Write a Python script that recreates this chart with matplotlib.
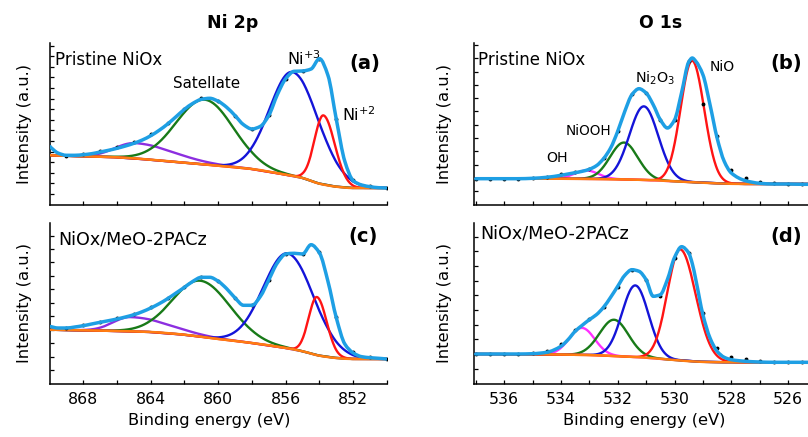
import numpy as np
import matplotlib
matplotlib.use("Agg")
import matplotlib.pyplot as plt
from matplotlib.ticker import MultipleLocator
from matplotlib.path import Path
from matplotlib.patches import PathPatch

# ---------------- data (intensity in a.u.) ----------------
# Ni 2p, fitted envelope
ni_env_e = [870, 869.5, 869, 868.5, 868, 867.5, 867, 866.5, 866, 865.5, 865, 864.5,
            864, 863.5, 863, 862.5, 862, 861.5, 861, 860.5, 860, 859.5, 859, 858.5,
            858, 857.5, 857, 856.5, 856, 855.5, 855, 854.5, 854, 853.5, 853, 852.5,
            852, 851.5, 851, 850.5, 850]
a_env = [58.2, 51.5, 49.2, 49.2, 49.8, 50.8, 52.5, 54.2, 56.2, 58.5, 61.2, 64.5,
         68.8, 74.2, 80.5, 87.8, 95.2, 101.2, 105.2, 106.2, 103.2, 97.2, 88.8, 79.8,
         75.5, 78.2, 89.2, 109.8, 125.8, 133.2, 133.5, 135.5, 145.8, 129.2, 84.8, 43.2,
         23.8, 19.5, 17.8, 16.8, 16.5]
c_env = [57.2, 55.5, 55.5, 56.5, 57.8, 59.5, 61.2, 62.8, 64.5, 66.5, 68.8, 71.8,
         75.5, 79.8, 84.8, 90.5, 96.2, 102.2, 106.2, 106.2, 102.2, 94.8, 85.5, 78.2,
         78.2, 87.2, 103.8, 120.5, 129.5, 130.2, 129.5, 138.8, 130.5, 102.2, 65.5, 39.5,
         30.5, 26.8, 25.8, 25.2, 24.5]

# Ni 2p, measured points
ni_raw_e = [870, 869, 868, 867, 866, 865, 864, 863, 862, 861, 860, 859, 858, 857,
            856, 855, 854, 853, 852, 851, 850]
a_raw = [58.5, 49, 50.5, 53.5, 58, 63, 70.5, 82, 96, 106.5, 103.5, 88.5, 76, 89.5,
         126, 133.5, 145.5, 85.5, 24.5, 18.5, 16.8]
c_raw = [57.5, 56, 59, 62, 65.5, 70, 76.5, 86, 97, 107, 103, 86, 78.5, 104,
         130, 130, 131.5, 66.5, 31.5, 26.5, 24.8]

# Ni 2p, background
ni_bg_e = [870, 868, 866, 864, 862, 860, 858, 856, 855, 854, 853, 852, 850]
a_bg = [49.2, 48.2, 47.2, 44.8, 41.8, 38.8, 35.5, 29.8, 26.5, 20.8, 17.8, 16.5, 16.5]
c_bg = [53.8, 53.2, 52.5, 51.5, 48.8, 44.5, 40.5, 35.5, 32.2, 27.8, 25.5, 24.5, 24.5]

# Ni 2p fit components: centre, height, fwhm (high-BE side), fwhm (low-BE side)
a_purple = [864.9, 15.5, 2.8, 5.3]
a_green = [860.8, 64.8, 4.0, 4.0]
a_blue = [855.6, 104, 3.2, 3.6]
a_red = [853.77, 69, 1.25, 1.6]
c_purple = [865.2, 14.3, 2.4, 5.2]
c_green = [861.05, 56, 3.9, 4.15]
c_blue = [855.88, 95, 3.4, 3.6]
c_red = [854.15, 58, 1.15, 1.35]

# O 1s, fitted envelope
o_env_e = [537, 536.5, 536, 535.5, 535, 534.5, 534, 533.75, 533.5, 533.25, 533,
           532.75, 532.5, 532.25, 532, 531.75, 531.5, 531.25, 531, 530.75, 530.5,
           530.25, 530, 529.75, 529.5, 529.375, 529.25, 529, 528.75, 528.5, 528.25,
           528, 527.5, 527, 526.5, 526, 525.5, 525.3]
b_env = [25.8, 25.8, 25.8, 25.8, 26.2, 27.2, 29.2, 30.5, 31.8, 33.2, 35.2,
         38.8, 45.8, 56.5, 73.2, 93.2, 109.8, 115.8, 111.5, 99.8, 84.8,
         76.5, 84.5, 112.0, 142.5, 146.5, 143.2, 129.8, 99.8, 66.5, 43.2,
         31.5, 23.8, 21.2, 20.5, 20.5, 20.2, 20.2]
d_env = [29.5, 29.5, 29.5, 29.5, 29.8, 31.2, 37.2, 43.8, 52.2, 58.2, 63.8,
         68.8, 76.2, 86.2, 97.2, 108.2, 113.8, 112.2, 103.8, 87.2, 88.8,
         104.0, 126.0, 136.8, 130.5, 120.0, 103.8, 68.8, 45.5, 32.2, 26.2,
         23.8, 22.2, 21.5, 21.2, 21.2, 21.2, 21.2]

# O 1s, measured points
o_raw_e = [537, 536.5, 536, 535.5, 535, 534.5, 534, 533.5, 533, 532.5, 532, 531.5,
           531, 530.5, 530, 529.5, 529, 528.5, 528, 527.5, 527, 526.5, 526, 525.5]
b_raw = [25.8, 25.8, 25.8, 25.9, 26.4, 27.8, 30.2, 33.0, 36.0, 46.5, 74, 110.5,
         111.5, 85, 85, 143.5, 101, 69, 34.5, 26.5, 23.0, 21.5, 21.0, 20.5]
d_raw = [29.5, 29.5, 29.5, 29.8, 30.4, 32.5, 39.5, 54, 64.5, 76.5, 97, 114,
         104, 88, 126, 131, 71, 36, 27, 24.5, 23, 22, 21.6, 21.3]

# O 1s, background
o_bg_e = [537, 535, 533, 532, 531, 530, 529, 528, 527, 525.3]
b_bg = [25.8, 25.8, 25.6, 25.2, 24.5, 23.2, 21.8, 20.7, 20.5, 20.5]
d_bg = [29.5, 29.2, 28.5, 27.3, 25.8, 23.5, 21.6, 21.2, 21.2, 21.2]

# O 1s fit components: centre, height, fwhm (high-BE side), fwhm (low-BE side)
b_oh = [533.1, 8.4, 1.0, 1.0]
b_niooh = [531.78, 36.9, 1.15, 1.15]
b_ni2o3 = [531.08, 73.6, 1.2, 1.2]
b_nio = [529.38, 121.5, 0.95, 1.0]
d_oh = [533.26, 27, 1.05, 1.05]
d_niooh = [532.13, 36.3, 1.2, 1.2]
d_ni2o3 = [531.38, 71.7, 1.1, 1.1]
d_nio = [529.8, 111, 1.06, 1.28]

ENV = "#1e9fe4"
C_BLUE = "#1414d8"
C_GREEN = "#187a18"
C_RED = "#ff1414"
C_PURPLE = "#8c2ee0"
C_MAG = "#ff30ff"
C_ORANGE = "#ff7d12"

plt.rcParams['font.family'] = ['DejaVu Sans']


def peak(e, p):
    c, h, wl, wr = p
    w = np.where(e >= c, wl, wr)
    return h * np.exp(-4 * np.log(2) * ((e - c) / w) ** 2)


def smooth_line(ax, x, y, **kw):
    # draws a smooth (shape preserving cubic) curve through the given points
    x = np.asarray(x, float)
    y = np.asarray(y, float)
    h = np.diff(x)
    d = np.diff(y) / h
    m = np.zeros_like(y)
    m[0], m[-1] = d[0], d[-1]
    for i in range(1, len(x) - 1):
        if d[i - 1] * d[i] > 0:
            w1 = 2 * h[i] + h[i - 1]
            w2 = h[i] + 2 * h[i - 1]
            m[i] = (w1 + w2) / (w1 / d[i - 1] + w2 / d[i])
    verts = [(x[0], y[0])]
    codes = [Path.MOVETO]
    for i in range(len(x) - 1):
        verts += [(x[i] + h[i] / 3, y[i] + m[i] * h[i] / 3),
                  (x[i + 1] - h[i] / 3, y[i + 1] - m[i + 1] * h[i] / 3),
                  (x[i + 1], y[i + 1])]
        codes += [Path.CURVE4] * 3
    patch = PathPatch(Path(verts, codes), facecolor='none', capstyle='round',
                      joinstyle='round', **kw)
    ax.add_patch(patch)


def draw_panel(ax, env_e, env, raw_e, raw, bg_e, bg, comps, xlim, ylim, ystep):
    e = np.linspace(min(xlim), max(xlim), 600)
    base = np.interp(e, bg_e[::-1], bg[::-1])
    for p, col in comps:
        ax.plot(e, base + peak(e, p), color=col, lw=1.7, zorder=2)
    smooth_line(ax, bg_e, bg, edgecolor=C_ORANGE, lw=1.8, zorder=3)
    ax.plot(raw_e, raw, 'o', color='black', ms=1.8, zorder=4)
    smooth_line(ax, env_e, env, edgecolor=ENV, lw=2.5, zorder=5)
    ax.set_xlim(xlim)
    ax.set_ylim(ylim)
    ax.set_yticks(np.arange(ystep, ylim[1], ystep))
    ax.set_yticklabels([])
    for s in ['top', 'right']:
        ax.spines[s].set_visible(False)
    for s in ['left', 'bottom']:
        ax.spines[s].set_linewidth(1.1)
    ax.tick_params(which='both', direction='in', length=2.6, width=0.9,
                   labelsize=11.3, pad=6)
    ax.set_ylabel('Intensity (a.u.)', fontsize=11.8)


fig = plt.figure(figsize=(8.08, 4.37), dpi=100)
W, H = 808.0, 437.0
ax_a = fig.add_axes([50 / W, 1 - 204.5 / H, 337 / W, 161.5 / H])
ax_c = fig.add_axes([50 / W, 1 - 383.5 / H, 337 / W, 160.5 / H])
ax_b = fig.add_axes([474 / W, 1 - 204.5 / H, 334 / W, 161.5 / H])
ax_d = fig.add_axes([474 / W, 1 - 383.5 / H, 334 / W, 160.5 / H])

ni_lim = (869.97, 850.0)
o_lim = (537.06, 525.3)

draw_panel(ax_a, ni_env_e, a_env, ni_raw_e, a_raw, ni_bg_e, a_bg,
           [(a_purple, C_PURPLE), (a_green, C_GREEN), (a_blue, C_BLUE), (a_red, C_RED)],
           ni_lim, (0, 161.5), 10.6)
draw_panel(ax_c, ni_env_e, c_env, ni_raw_e, c_raw, ni_bg_e, c_bg,
           [(c_purple, C_PURPLE), (c_green, C_GREEN), (c_blue, C_BLUE), (c_red, C_RED)],
           ni_lim, (0, 160.5), 13.45)
draw_panel(ax_b, o_env_e, b_env, o_raw_e, b_raw, o_bg_e, b_bg,
           [(b_oh, C_MAG), (b_niooh, C_GREEN), (b_ni2o3, C_BLUE), (b_nio, C_RED)],
           o_lim, (0, 161.5), 13.3)
draw_panel(ax_d, o_env_e, d_env, o_raw_e, d_raw, o_bg_e, d_bg,
           [(d_oh, C_MAG), (d_niooh, C_GREEN), (d_ni2o3, C_BLUE), (d_nio, C_RED)],
           o_lim, (0, 160.5), 14.7)

for ax in (ax_a, ax_c):
    ax.xaxis.set_major_locator(MultipleLocator(4))
    ax.xaxis.set_minor_locator(MultipleLocator(2))
    ax.yaxis.set_label_coords(-0.053, 0.5)
for ax in (ax_b, ax_d):
    ax.xaxis.set_major_locator(MultipleLocator(2))
    ax.xaxis.set_minor_locator(MultipleLocator(1))
    ax.yaxis.set_label_coords(-0.066, 0.5)
for ax in (ax_a, ax_b):
    ax.set_xticklabels([])

ax_c.set_xlabel('Binding energy (eV)', fontsize=11.7)
ax_c.xaxis.set_label_coords(0.472, -0.185)
ax_d.set_xlabel('Binding energy (eV)', fontsize=11.7)
ax_d.xaxis.set_label_coords(0.509, -0.185)

# titles
fig.text(232.5 / W, 1 - 27.7 / H, 'Ni 2p', fontsize=12.5, fontweight='bold',
         ha='center', va='baseline')
fig.text(661 / W, 1 - 27.7 / H, 'O 1s', fontsize=12.5, fontweight='bold',
         ha='center', va='baseline')

# panel letters
for ax, lab, e, y in [(ax_a, '(a)', 850.42, 141), (ax_c, '(c)', 850.54, 147),
                      (ax_b, '(b)', 525.51, 141), (ax_d, '(d)', 525.51, 147)]:
    ax.text(e, y, lab, fontsize=14, fontweight='bold', ha='right', va='center')

# sample names
ax_a.text(869.68, 139.5, 'Pristine NiOx', fontsize=12, va='baseline')
ax_b.text(536.92, 139.5, 'Pristine NiOx', fontsize=12, va='baseline')
ax_c.text(869.5, 138.5, 'NiOx/MeO-2PACz', fontsize=12.6, va='baseline')
ax_d.text(536.85, 145.5, 'NiOx/MeO-2PACz', fontsize=12.6, va='baseline')

# peak labels
ax_a.text(862.68, 116.5, 'Satellate', fontsize=10.9, va='baseline')
ax_a.text(855.95, 139.8, 'Ni$^{+3}$', fontsize=11.5, va='baseline')
ax_a.text(852.67, 83.5, 'Ni$^{+2}$', fontsize=11.5, va='baseline')
ax_b.text(528.76, 133.5, 'NiO', fontsize=10, va='baseline')
ax_b.text(531.4, 121.5, 'Ni$_2$O$_3$', fontsize=10.3, va='baseline')
ax_b.text(533.82, 69.8, 'NiOOH', fontsize=9.8, va='baseline')
ax_b.text(534.52, 42.5, 'OH', fontsize=10.2, va='baseline')

fig.savefig('out.png', dpi=100)
